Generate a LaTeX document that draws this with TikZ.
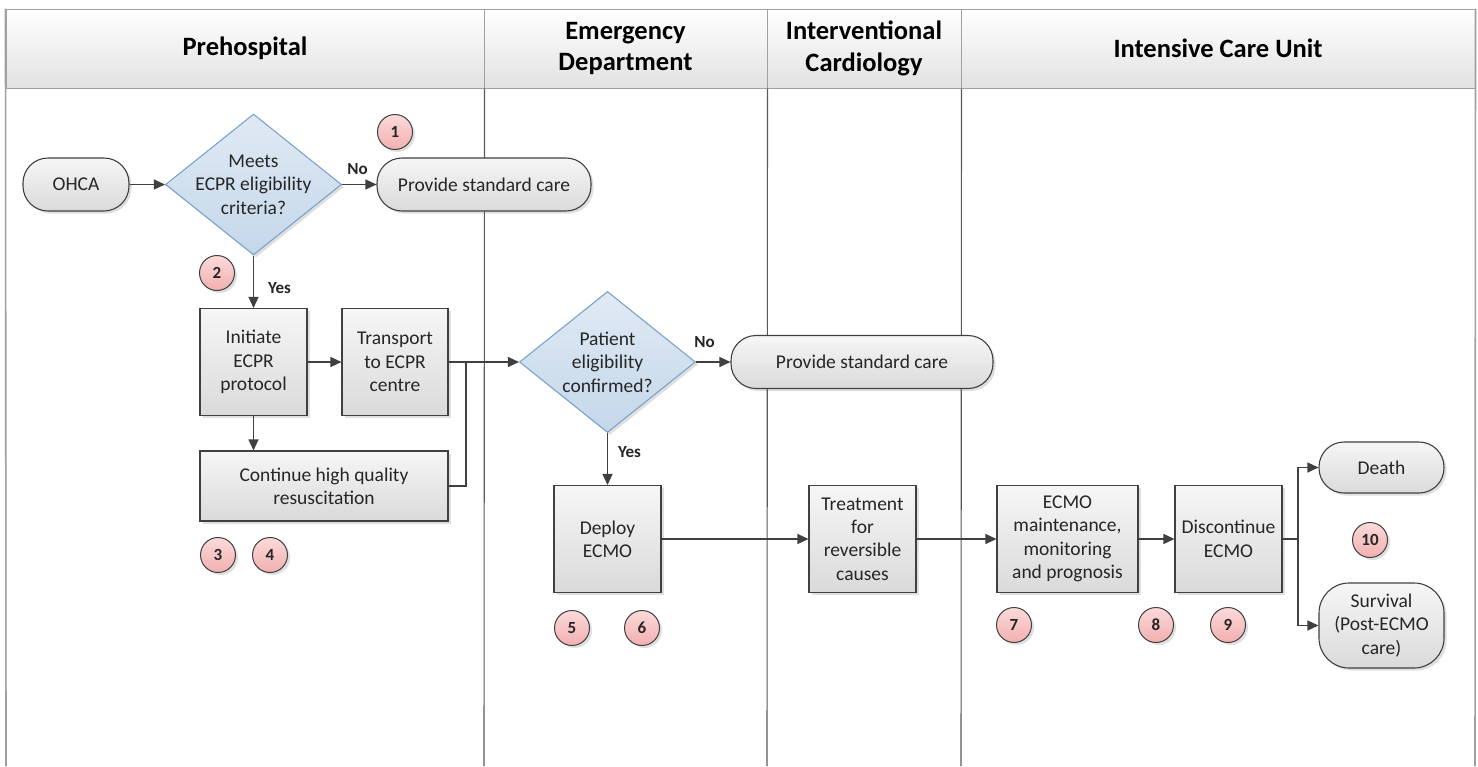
\documentclass[tikz,border=0pt]{standalone}
\usepackage{fontspec}
\setmainfont{Carlito}
\usetikzlibrary{shapes.geometric,shadows,arrows.meta}
\definecolor{ln}{HTML}{404040}
\definecolor{frm}{HTML}{A0A0A0}
\definecolor{lanec}{HTML}{5A5A5A}
\definecolor{boxtop}{HTML}{F6F6F6}
\definecolor{boxbot}{HTML}{DADADA}
\definecolor{dtop}{HTML}{E0EAF4}
\definecolor{dbot}{HTML}{C4D7EA}
\definecolor{dbrd}{HTML}{7BA3C8}
\definecolor{ctop}{HTML}{FCDADA}
\definecolor{cbot}{HTML}{F2AFAF}
\definecolor{htop}{HTML}{FFFFFF}
\definecolor{hbot}{HTML}{E2E2E2}
\definecolor{txt}{HTML}{262626}
\begin{document}
\begin{tikzpicture}[x=1pt,y=-1pt,
  font=\fontsize{19.5}{23.4}\selectfont,
  shd/.style={drop shadow={opacity=0.25,shadow xshift=2.5pt,shadow yshift=-2.5pt}},
  proc/.style={draw=ln,line width=1.1pt,top color=boxtop,bottom color=boxbot,shd,
    inner sep=0pt,align=center,text=txt,minimum width=107pt,minimum height=107pt},
  pill/.style={draw=ln,line width=1.1pt,top color=boxtop,bottom color=boxbot,shd,
    rounded corners=25pt,inner sep=0pt,align=center,text=txt,minimum height=53pt},
  dec/.style={diamond,draw=dbrd,line width=1.1pt,top color=dtop,bottom color=dbot,shd,
    inner sep=0pt,minimum width=176pt,minimum height=141pt},
  dtext/.style={align=center,text=txt},
  num/.style={circle,draw=ln,line width=1pt,top color=ctop,bottom color=cbot,shd,
    minimum size=35pt,inner sep=0pt,font=\fontsize{17}{20}\bfseries\selectfont,text=txt},
  hdr/.style={draw=frm,line width=1pt,top color=htop,bottom color=hbot,inner sep=0pt,
    minimum height=79pt,align=center,font=\fontsize{26.5}{31.5}\bfseries\selectfont,text=black},
  lbl/.style={font=\fontsize{17}{20}\bfseries\selectfont,text=txt,inner sep=2pt},
  arr/.style={draw=ln,line width=1.3pt,-{Triangle[length=11pt,width=10pt]}},
  con/.style={draw=ln,line width=1.3pt},
  lane/.style={draw=lanec,line width=1.1pt},
  frame/.style={draw=frm,line width=1.6pt}]
\useasboundingbox (0,0) rectangle (1478,766);
\fill[white] (0,0) rectangle (1478,766);

% headers
\node[hdr,minimum width=478pt] (h1) at (245,48.5) {Prehospital};
\node[hdr,minimum width=283pt] (h2) at (625.5,48.5) {Emergency\\Department};
\node[hdr,minimum width=194pt] (h3) at (864,48.5) {Interventional\\Cardiology};
\node[hdr,minimum width=514pt] (h4) at (1218,48.5) {Intensive Care Unit};

% lanes
\coordinate (b0) at (6,766);
\coordinate (b1) at (484,766);
\coordinate (b2) at (767,766);
\coordinate (b3) at (961,766);
\coordinate (b4) at (1475,766);
\draw[frame] (h1.north west) -- (b0);
\draw[frame] (h4.north east) -- (b4);
\draw[lane] (h1.south east) -- (b1);
\draw[lane] (h2.south east) -- (b2);
\draw[lane] (h3.south east) -- (b3);

% prehospital
\node[pill,minimum width=106pt] (ohca) at (76,184.5) {OHCA};
\node[dec,label={[dtext]center:Meets\\ECPR eligibility\\criteria?}] (d1) at (253.5,184.5) {};
\node[pill,minimum width=214pt] (ps1) at (484,184.5) {Provide standard care};
\node[num] (n1) at (395,132) {1};
\node[num] (n2) at (217,273) {2};
\node[proc] (init) at (253.5,362) {Initiate\\ECPR\\protocol};
\node[proc,minimum width=106pt] (trans) at (395,362) {Transport\\to ECPR\\centre};
\node[proc,minimum width=248pt,minimum height=70pt] (cont) at (324,486) {Continue high quality\\resuscitation};
\node[num] (n3) at (218,555) {3};
\node[num] (n4) at (270,555) {4};
\coordinate (j) at (466,362);

% emergency department
\node[dec,label={[dtext]center:Patient\\eligibility\\confirmed?}] (d2) at (607.5,362) {};
\node[pill,minimum width=262pt] (ps2) at (862,362) {Provide standard care};
\node[proc] (deploy) at (607.5,539) {Deploy\\ECMO};
\node[num] (n5) at (572,628) {5};
\node[num] (n6) at (642,628) {6};

% interventional cardiology
\node[proc] (treat) at (862.5,539) {Treatment\\for\\reversible\\causes};

% ICU
\node[proc,minimum width=141pt] (ecmo) at (1067.5,539) {ECMO\\maintenance,\\monitoring\\and prognosis};
\node[proc] (disc) at (1228.5,539) {Discontinue\\ECMO};
\node[num] (n7) at (1014,625) {7};
\node[num] (n8) at (1156,625) {8};
\node[num] (n9) at (1228,625) {9};
\coordinate (br) at (1298,539);
\node[pill,minimum width=125pt,minimum height=51pt] (death) at (1381.5,467.5) {Death};
\node[pill,minimum width=125pt,minimum height=85pt,rounded corners=30pt] (surv) at (1381.5,625.5) {Survival\\(Post-ECMO\\care)};
\node[num] (n10) at (1370,540) {10};

% connectors
\draw[arr] (ohca.east) -- (d1.west);
\draw[arr] (d1.east) -- node[lbl,above=7pt,pos=0.45] (no1) {No} (ps1.west);
\draw[arr] (d1.south) -- node[lbl,right,pos=0.62,xshift=12pt] (yes1) {Yes} (init.north);
\draw[arr] (init.east) -- (trans.west);
\draw[arr] (init.south) -- (init.south |- cont.north);
\draw[arr] (trans.east) -- (d2.west);
\draw[con] (cont.east) -| (j);
\draw[arr] (d2.east) -- node[lbl,above=12pt,pos=0.25] (no2) {No} (ps2.west);
\draw[arr] (d2.south) -- node[lbl,right,pos=0.37,xshift=8pt] (yes2) {Yes} (deploy.north);
\draw[arr] (deploy.east) -- (treat.west);
\draw[arr] (treat.east) -- (ecmo.west);
\draw[arr] (ecmo.east) -- (disc.west);
\draw[con] (disc.east) -- (br);
\draw[arr] (br) |- (death.west);
\draw[arr] (br) |- (surv.west);
\end{tikzpicture}
\end{document}
